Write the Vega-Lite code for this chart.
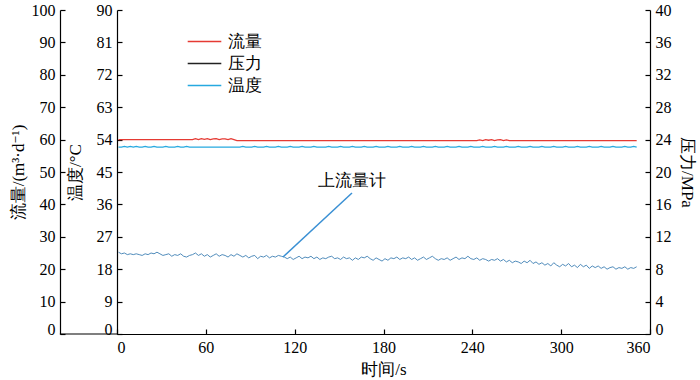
{
"$schema": "https://vega.github.io/schema/vega-lite/v6.json",
"width": 533, "height": 324,
"autosize": "none",
"padding": {"left": 117, "top": 10, "right": 50, "bottom": 46},
"config": {
  "view": {"stroke": null},
  "font": "Liberation Serif, DejaVu Serif Condensed, DejaVu Serif",
  "axis": {"grid": false, "domainColor": "#000", "tickColor": "#000", "labelColor": "#000", "titleColor": "#000",
    "labelFont": "Liberation Serif, DejaVu Serif Condensed, DejaVu Serif", "titleFont": "Liberation Serif, DejaVu Serif Condensed, DejaVu Serif",
    "labelFontSize": 16, "titleFontSize": 17, "titleFontWeight": "normal", "tickSize": -5, "labelPadding": 10, "domainWidth": 1.2, "tickWidth": 1.2},
  "legend": {"labelFont": "Liberation Serif, DejaVu Serif Condensed, DejaVu Serif", "labelFontSize": 17, "labelColor": "#000"}
},
"data": {"values": [
{"t":1,"f":60,"w":51.9,"p":10.1},{"t":3,"f":60,"w":51.9,"p":9.9},{"t":5,"f":60,"w":52.1,"p":10.0},{"t":7,"f":60,"w":51.9,"p":9.8},
{"t":9,"f":60,"w":52.1,"p":9.9},{"t":11,"f":60,"w":51.9,"p":9.8},{"t":13,"f":60,"w":52.1,"p":9.9},{"t":15,"f":60,"w":51.9,"p":9.8},
{"t":17,"f":60,"w":51.9,"p":9.7},{"t":19,"f":60,"w":52.1,"p":9.9},{"t":21,"f":60,"w":51.9,"p":9.8},{"t":23,"f":60,"w":51.9,"p":10.0},
{"t":25,"f":60,"w":52.1,"p":9.9},{"t":27,"f":60,"w":51.9,"p":10.1},{"t":29,"f":60,"w":51.9,"p":9.9},{"t":31,"f":60,"w":51.9,"p":9.7},
{"t":33,"f":60,"w":52.1,"p":9.8},{"t":35,"f":60,"w":51.9,"p":9.9},{"t":37,"f":60,"w":51.9,"p":9.6},{"t":39,"f":60,"w":51.9,"p":9.8},
{"t":41,"f":60,"w":52.1,"p":9.7},{"t":43,"f":60,"w":51.9,"p":9.9},{"t":45,"f":60,"w":51.9,"p":9.6},{"t":47,"f":60,"w":52.1,"p":9.5},
{"t":49,"f":60,"w":51.9,"p":9.7},{"t":51,"f":60,"w":51.9,"p":9.8},{"t":53,"f":60.3,"w":51.9,"p":10.0},{"t":55,"f":60,"w":51.9,"p":9.7},
{"t":57,"f":60.3,"w":51.9,"p":9.9},{"t":59,"f":60.1,"w":51.9,"p":9.6},{"t":61,"f":60.3,"w":51.9,"p":9.8},{"t":63,"f":60,"w":51.9,"p":9.5},
{"t":65,"f":60.2,"w":51.9,"p":9.7},{"t":67,"f":60.3,"w":51.9,"p":9.9},{"t":69,"f":60,"w":51.9,"p":9.6},{"t":71,"f":60.2,"w":51.9,"p":9.8},
{"t":73,"f":60.2,"w":51.9,"p":9.7},{"t":75,"f":60,"w":51.9,"p":9.5},{"t":77,"f":60.3,"w":51.9,"p":9.8},{"t":79,"f":60,"w":51.9,"p":9.6},
{"t":81,"f":59.7,"w":51.9,"p":9.9},{"t":83,"f":59.7,"w":51.9,"p":9.7},{"t":85,"f":59.7,"w":52.1,"p":9.5},{"t":87,"f":59.7,"w":51.9,"p":9.7},
{"t":89,"f":59.7,"w":51.9,"p":9.4},{"t":91,"f":59.7,"w":51.9,"p":9.6},{"t":93,"f":59.7,"w":52.1,"p":9.7},{"t":95,"f":59.7,"w":51.9,"p":9.3},
{"t":97,"f":59.7,"w":51.9,"p":9.6},{"t":99,"f":59.7,"w":51.9,"p":9.5},{"t":101,"f":59.7,"w":52.1,"p":9.7},{"t":103,"f":59.7,"w":51.9,"p":9.4},
{"t":105,"f":59.7,"w":51.9,"p":9.6},{"t":107,"f":59.7,"w":51.9,"p":9.5},{"t":109,"f":59.7,"w":52.1,"p":9.7},{"t":111,"f":59.7,"w":51.9,"p":9.6},
{"t":113,"f":59.7,"w":51.9,"p":9.5},{"t":115,"f":59.7,"w":51.9,"p":9.3},{"t":117,"f":59.7,"w":52.1,"p":9.5},{"t":119,"f":59.7,"w":51.9,"p":9.2},
{"t":121,"f":59.7,"w":51.9,"p":9.4},{"t":123,"f":59.7,"w":51.9,"p":9.6},{"t":125,"f":59.7,"w":52.1,"p":9.3},{"t":127,"f":59.7,"w":51.9,"p":9.5},
{"t":129,"f":59.7,"w":51.9,"p":9.4},{"t":131,"f":59.7,"w":51.9,"p":9.6},{"t":133,"f":59.7,"w":52.1,"p":9.3},{"t":135,"f":59.7,"w":51.9,"p":9.5},
{"t":137,"f":59.7,"w":51.9,"p":9.2},{"t":139,"f":59.7,"w":51.9,"p":9.4},{"t":141,"f":59.7,"w":51.9,"p":9.3},{"t":143,"f":59.7,"w":52.1,"p":9.5},
{"t":145,"f":59.7,"w":51.9,"p":9.6},{"t":147,"f":59.7,"w":51.9,"p":9.3},{"t":149,"f":59.7,"w":51.9,"p":9.4},{"t":151,"f":59.7,"w":52.1,"p":9.2},
{"t":153,"f":59.7,"w":51.9,"p":9.5},{"t":155,"f":59.7,"w":51.9,"p":9.3},{"t":157,"f":59.7,"w":51.9,"p":9.4},{"t":159,"f":59.7,"w":52.1,"p":9.1},
{"t":161,"f":59.7,"w":51.9,"p":9.4},{"t":163,"f":59.7,"w":51.9,"p":9.2},{"t":165,"f":59.7,"w":51.9,"p":9.5},{"t":167,"f":59.7,"w":52.1,"p":9.4},
{"t":169,"f":59.7,"w":51.9,"p":9.6},{"t":171,"f":59.7,"w":51.9,"p":9.3},{"t":173,"f":59.7,"w":51.9,"p":9.1},{"t":175,"f":59.7,"w":52.1,"p":9.4},
{"t":177,"f":59.7,"w":51.9,"p":9.2},{"t":179,"f":59.7,"w":51.9,"p":9.0},{"t":181,"f":59.7,"w":51.9,"p":9.3},{"t":183,"f":59.7,"w":52.1,"p":9.1},
{"t":185,"f":59.7,"w":51.9,"p":9.4},{"t":187,"f":59.7,"w":51.9,"p":9.3},{"t":189,"f":59.7,"w":51.9,"p":9.5},{"t":191,"f":59.7,"w":52.1,"p":9.2},
{"t":193,"f":59.7,"w":51.9,"p":9.4},{"t":195,"f":59.7,"w":51.9,"p":9.3},{"t":197,"f":59.7,"w":51.9,"p":9.5},{"t":199,"f":59.7,"w":52.1,"p":9.2},
{"t":201,"f":59.7,"w":51.9,"p":9.4},{"t":203,"f":59.7,"w":51.9,"p":9.1},{"t":205,"f":59.7,"w":51.9,"p":9.3},{"t":207,"f":59.7,"w":52.1,"p":9.5},
{"t":209,"f":59.7,"w":51.9,"p":9.2},{"t":211,"f":59.7,"w":51.9,"p":9.4},{"t":213,"f":59.7,"w":51.9,"p":9.6},{"t":215,"f":59.7,"w":52.1,"p":9.3},
{"t":217,"f":59.7,"w":51.9,"p":9.1},{"t":219,"f":59.7,"w":51.9,"p":9.3},{"t":221,"f":59.7,"w":51.9,"p":9.2},{"t":223,"f":59.7,"w":52.1,"p":9.4},
{"t":225,"f":59.7,"w":51.9,"p":9.1},{"t":227,"f":59.7,"w":51.9,"p":9.3},{"t":229,"f":59.7,"w":51.9,"p":9.5},{"t":231,"f":59.7,"w":52.1,"p":9.2},
{"t":233,"f":59.7,"w":51.9,"p":9.4},{"t":235,"f":59.7,"w":51.9,"p":9.3},{"t":237,"f":59.7,"w":51.9,"p":9.6},{"t":239,"f":59.7,"w":52.1,"p":9.3},
{"t":241,"f":59.7,"w":51.9,"p":9.2},{"t":243,"f":59.7,"w":51.9,"p":9.4},{"t":245,"f":59.9,"w":51.9,"p":9.1},{"t":247,"f":59.7,"w":52.1,"p":9.3},
{"t":249,"f":60.0,"w":51.9,"p":9.2},{"t":251,"f":59.8,"w":51.9,"p":9.0},{"t":253,"f":60.0,"w":51.9,"p":9.2},{"t":255,"f":59.7,"w":52.1,"p":9.1},
{"t":257,"f":59.9,"w":51.9,"p":9.3},{"t":259,"f":60.0,"w":51.9,"p":9.0},{"t":261,"f":59.7,"w":51.9,"p":9.2},{"t":263,"f":59.9,"w":52.1,"p":8.9},
{"t":265,"f":59.7,"w":51.9,"p":9.1},{"t":267,"f":59.7,"w":51.9,"p":8.8},{"t":269,"f":59.7,"w":51.9,"p":9.0},{"t":271,"f":59.7,"w":52.1,"p":8.9},
{"t":273,"f":59.7,"w":51.9,"p":8.7},{"t":275,"f":59.7,"w":51.9,"p":9.0},{"t":277,"f":59.7,"w":51.9,"p":8.8},{"t":279,"f":59.7,"w":52.1,"p":9.1},
{"t":281,"f":59.7,"w":51.9,"p":8.7},{"t":283,"f":59.7,"w":51.9,"p":8.9},{"t":285,"f":59.7,"w":51.9,"p":8.6},{"t":287,"f":59.7,"w":52.1,"p":8.8},
{"t":289,"f":59.7,"w":51.9,"p":8.5},{"t":291,"f":59.7,"w":51.9,"p":8.7},{"t":293,"f":59.7,"w":51.9,"p":8.4},{"t":295,"f":59.7,"w":52.1,"p":8.8},
{"t":297,"f":59.7,"w":51.9,"p":8.5},{"t":299,"f":59.7,"w":51.9,"p":8.3},{"t":301,"f":59.7,"w":51.9,"p":8.6},{"t":303,"f":59.7,"w":52.1,"p":8.4},
{"t":305,"f":59.7,"w":51.9,"p":8.7},{"t":307,"f":59.7,"w":51.9,"p":8.3},{"t":309,"f":59.7,"w":51.9,"p":8.5},{"t":311,"f":59.7,"w":52.1,"p":8.2},
{"t":313,"f":59.7,"w":51.9,"p":8.6},{"t":315,"f":59.7,"w":51.9,"p":8.3},{"t":317,"f":59.7,"w":51.9,"p":8.5},{"t":319,"f":59.7,"w":52.1,"p":8.1},
{"t":321,"f":59.7,"w":51.9,"p":8.4},{"t":323,"f":59.7,"w":51.9,"p":8.2},{"t":325,"f":59.7,"w":51.9,"p":8.4},{"t":327,"f":59.7,"w":52.1,"p":8.1},
{"t":329,"f":59.7,"w":51.9,"p":8.3},{"t":331,"f":59.7,"w":51.9,"p":8.0},{"t":333,"f":59.7,"w":51.9,"p":8.2},{"t":335,"f":59.7,"w":52.1,"p":8.3},
{"t":337,"f":59.7,"w":51.9,"p":8.0},{"t":339,"f":59.7,"w":51.9,"p":8.2},{"t":341,"f":59.7,"w":51.9,"p":8.1},{"t":343,"f":59.7,"w":52.1,"p":8.3},
{"t":345,"f":59.7,"w":51.9,"p":8.0},{"t":347,"f":59.7,"w":51.9,"p":8.2},{"t":349,"f":59.7,"w":52.1,"p":8.1},{"t":351,"f":59.7,"w":51.9,"p":8.3}
]},
"layer": [
  {"mark": {"type": "line", "strokeWidth": 1.3},
   "encoding": {
     "x": {"field": "t", "type": "quantitative", "scale": {"domain": [0, 360], "nice": false, "zero": false},
       "axis": {"values": [0,60,120,180,240,300,360], "title": "时间/s", "titlePadding": 6, "labelPadding": 10}},
     "y": {"field": "f", "type": "quantitative", "scale": {"domain": [0, 100]},
       "axis": {"orient": "left", "offset": 57, "values": [0,10,20,30,40,50,60,70,80,90,100], "title": "流量/(m³·d⁻¹)", "titlePadding": 4,
         "labelBaseline": {"condition": {"test": "datum.value == 0", "value": "alphabetic"}, "value": "middle"}}},
     "color": {"datum": "流量", "type": "nominal",
       "scale": {"domain": ["流量", "压力", "温度"], "range": ["#e53a33", "#222222", "#26a9e0"]},
       "legend": {"title": null, "orient": "none", "legendX": 76, "legendY": 20, "symbolType": "M-1.6,0H1.6", "symbolSize": 441, "symbolStrokeWidth": 1.5, "rowPadding": 2, "labelOffset": 12, "padding": 0}}
   }},
  {"mark": {"type": "line", "strokeWidth": 1.3},
   "encoding": {
     "x": {"field": "t", "type": "quantitative", "scale": {"domain": [0, 360], "nice": false, "zero": false}},
     "y": {"field": "w", "type": "quantitative", "scale": {"domain": [0, 90]},
       "axis": {"orient": "left", "offset": 0, "values": [0,9,18,27,36,45,54,63,72,81,90], "title": "温度/°C", "titlePadding": 12,
         "labelBaseline": {"condition": {"test": "datum.value == 0", "value": "alphabetic"}, "value": "middle"}}},
     "color": {"datum": "温度", "type": "nominal"}
   }},
  {"mark": {"type": "line", "strokeWidth": 0.9},
   "encoding": {
     "x": {"field": "t", "type": "quantitative", "scale": {"domain": [0, 360], "nice": false, "zero": false}},
     "y": {"field": "p", "type": "quantitative", "scale": {"domain": [0, 40]},
       "axis": {"orient": "right", "offset": 0, "values": [0,4,8,12,16,20,24,28,32,36,40], "title": "压力/MPa", "titlePadding": 6,
         "labelBaseline": {"condition": {"test": "datum.value == 0", "value": "alphabetic"}, "value": "middle"}}},
     "color": {"datum": "压力", "type": "nominal"},
     "stroke": {"value": "#3d7fb3"}
   }},
  {"data": {"values": [{}]},
   "mark": {"type": "rule", "color": "#3a90d4", "strokeWidth": 1.5},
   "encoding": {
     "x": {"datum": 112.1, "type": "quantitative", "scale": {"domain": [0, 360], "nice": false, "zero": false}}, "x2": {"datum": 158.7},
     "y": {"datum": 9.5, "type": "quantitative", "scale": {"domain": [0, 40]}, "axis": null}, "y2": {"datum": 17.4}
   }},
  {"data": {"values": [{"label": "上流量计"}]},
   "mark": {"type": "text", "fontSize": 17, "color": "#000"},
   "encoding": {
     "x": {"datum": 158.7, "type": "quantitative", "scale": {"domain": [0, 360], "nice": false, "zero": false}},
     "y": {"datum": 18.9, "type": "quantitative", "scale": {"domain": [0, 40]}, "axis": null},
     "text": {"field": "label"}
   }},
  {"data": {"values": [{}]},
   "mark": {"type": "rule", "color": "#000", "strokeWidth": 1.2},
   "encoding": {
     "x": {"datum": -38.6, "type": "quantitative", "scale": {"domain": [0, 360], "nice": false, "zero": false}}, "x2": {"datum": 0},
     "y": {"datum": 0, "type": "quantitative", "scale": {"domain": [0, 40]}, "axis": null}
   }}
],
"resolve": {"scale": {"y": "independent"}}
}
